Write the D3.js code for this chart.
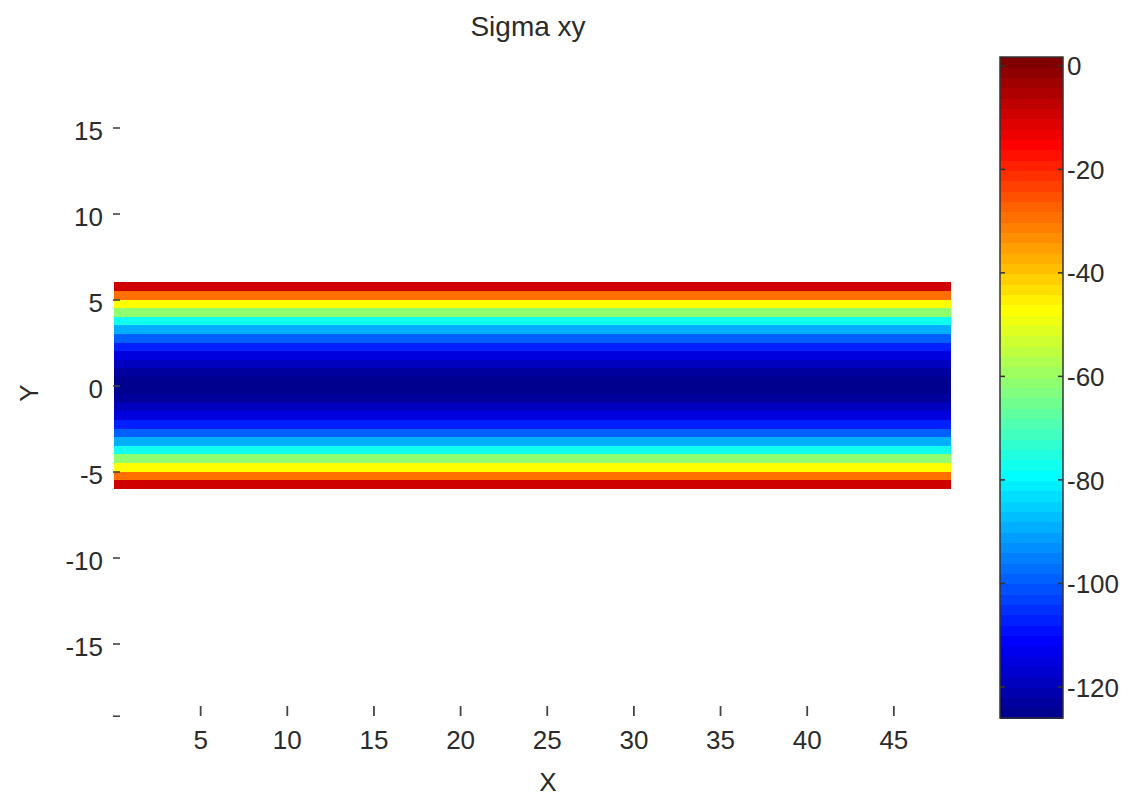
<!DOCTYPE html>
<html>
<head>
<meta charset="utf-8">
<script src="https://cdn.jsdelivr.net/npm/d3@7"></script>
<style>
  html, body { margin: 0; padding: 0; background: #ffffff; }
  svg { display: block; }
  text { font-family: "Liberation Sans", Arial, Helvetica, sans-serif; fill: #2b2b2b; }
</style>
</head>
<body>
<svg id="chart" width="1132" height="799"></svg>
<script>
// ---------------- data ----------------
const title = "Sigma xy";
const xLabel = "X";
const yLabel = "Y";
const xTicks = [5, 10, 15, 20, 25, 30, 35, 40, 45];
const yTicks = [15, 10, 5, 0, -5, -10, -15];
const yTickLabels = ["15", "10", "5", "0", "-5", "-10", "-15"];
const yExtraTick = [-19.2];            // unlabeled tick at the bottom of the axis
const cTicks = [0, -20, -40, -60, -80, -100, -120];
const cTickLabels = ["0", "-20", "-40", "-60", "-80", "-100", "-120"];
const xExtent = [0, 48.3];              // plate length
// rows of the field (centre of each 0.5-high row, top to bottom)
const rowY = [5.75, 5.25, 4.75, 4.25, 3.75, 3.25, 2.75, 2.25, 1.75, 1.25, 0.75, 0.25,
              -0.25, -0.75, -1.25, -1.75, -2.25, -2.75, -3.25, -3.75, -4.25, -4.75, -5.25, -5.75];
// sigma xy read in each row (constant along X)
const rowSigma = [-10, -29, -47, -62, -77, -89, -99, -108, -115, -120, -123, -125,
                  -125, -123, -120, -115, -108, -99, -89, -77, -62, -47, -29, -10];
const rowHeight = 0.5;
const cDomain = [-126, 1.7];

// ---------------- jet(64) colormap ----------------
function jet64() {
  const m = 64, n = 16, u = [];
  for (let i = 1; i <= n; i++) u.push(i / n);
  for (let i = 1; i <= n - 1; i++) u.push(1);
  for (let i = n; i >= 1; i--) u.push(i / n);
  const r = new Array(m).fill(0), g = new Array(m).fill(0), b = new Array(m).fill(0);
  const g0 = Math.ceil(n / 2);
  u.forEach((val, k) => {
    const gi = g0 + k + 1, ri = gi + n, bi = gi - n;
    if (gi >= 1 && gi <= m) g[gi - 1] = val;
    if (ri >= 1 && ri <= m) r[ri - 1] = val;
    if (bi >= 1 && bi <= m) b[bi - 1] = val;
  });
  return d3.range(m).map(i => d3.rgb(r[i] * 255, g[i] * 255, b[i] * 255).formatHex());
}
const cmap = jet64();
const colorScale = d3.scaleQuantize().domain(cDomain).range(cmap);

// ---------------- layout / scales ----------------
const svg = d3.select("#chart");
const x = d3.scaleLinear().domain([0, 48]).range([113.5, 113.5 + 48 * 17.33]);
const y = d3.scaleLinear().domain([-19.2, 19.2]).range([385.5 + 19.2 * 17.2, 385.5 - 19.2 * 17.2]);

// heatmap rows
svg.append("g").attr("class", "field")
  .selectAll("rect").data(rowY.map((yc, i) => ({ yc, v: rowSigma[i] })))
  .join("rect")
  .attr("x", x(xExtent[0]))
  .attr("width", x(xExtent[1]) - x(xExtent[0]))
  .attr("y", d => y(d.yc + rowHeight / 2))
  .attr("height", d => y(d.yc - rowHeight / 2) - y(d.yc + rowHeight / 2) + 0.3)
  .attr("fill", d => colorScale(d.v))
  .attr("shape-rendering", "crispEdges");

// y axis (ticks only, no spine)
const yAxis = d3.axisLeft(y)
  .tickValues(yTicks.concat(yExtraTick))
  .tickFormat(d => { const i = yTicks.indexOf(d); return i >= 0 ? yTickLabels[i] : ""; })
  .tickSize(7).tickPadding(10);
const gy = svg.append("g").attr("transform", "translate(120,0)").call(yAxis);
gy.select(".domain").remove();
gy.selectAll(".tick line").attr("stroke", "#444").attr("stroke-width", 1.6);
gy.selectAll(".tick text").attr("font-size", 26).attr("dy", "0.45em").style("fill", "#2b2b2b")
  .style("font-family", "'Liberation Sans', Arial, sans-serif");

// x axis (ticks only, no spine)
const xAxis = d3.axisBottom(x).tickValues(xTicks).tickSize(10).tickPadding(15);
const gx = svg.append("g").attr("transform", "translate(0,706)").call(xAxis);
gx.select(".domain").remove();
gx.selectAll(".tick line").attr("stroke", "#444").attr("stroke-width", 1.8);
gx.selectAll(".tick text").attr("font-size", 26).style("fill", "#2b2b2b")
  .style("font-family", "'Liberation Sans', Arial, sans-serif");

// title and axis labels
svg.append("text").attr("x", 528).attr("y", 36).attr("text-anchor", "middle")
  .attr("font-size", 28).text(title);
svg.append("text").attr("x", 548).attr("y", 791).attr("text-anchor", "middle")
  .attr("font-size", 26).text(xLabel);
svg.append("text").attr("transform", "translate(38,393) rotate(-90)").attr("text-anchor", "middle")
  .attr("font-size", 26).text(yLabel);

// ---------------- colorbar ----------------
const cb = { x0: 1000, x1: 1063, top: 57, bottom: 718 };
const cy = d3.scaleLinear().domain(cDomain).range([cb.bottom, cb.top]);
const bandH = (cDomain[1] - cDomain[0]) / cmap.length;
const gcb = svg.append("g").attr("class", "colorbar");
gcb.selectAll("rect.band").data(cmap).join("rect").attr("class", "band")
  .attr("x", cb.x0).attr("width", cb.x1 - cb.x0)
  .attr("y", (c, i) => cy(cDomain[0] + (i + 1) * bandH))
  .attr("height", (c, i) => cy(cDomain[0] + i * bandH) - cy(cDomain[0] + (i + 1) * bandH) + 0.5)
  .attr("fill", c => c)
  .attr("shape-rendering", "crispEdges");
gcb.append("rect").attr("x", cb.x0).attr("y", cb.top).attr("width", cb.x1 - cb.x0)
  .attr("height", cb.bottom - cb.top).attr("fill", "none").attr("stroke", "#333").attr("stroke-width", 1.5);
// inner tick marks on both edges
gcb.selectAll("line.tl").data(cTicks).join("line").attr("class", "tl")
  .attr("x1", cb.x0).attr("x2", cb.x0 + 5).attr("y1", d => cy(d)).attr("y2", d => cy(d))
  .attr("stroke", "#333").attr("stroke-width", 1.5);
gcb.selectAll("line.tr").data(cTicks).join("line").attr("class", "tr")
  .attr("x1", cb.x1 - 5).attr("x2", cb.x1).attr("y1", d => cy(d)).attr("y2", d => cy(d))
  .attr("stroke", "#333").attr("stroke-width", 1.5);
const cAxis = d3.axisRight(cy).tickValues(cTicks)
  .tickFormat((d, i) => cTickLabels[i]).tickSize(0).tickPadding(4);
const gc = svg.append("g").attr("transform", `translate(${cb.x1},0)`).call(cAxis);
gc.select(".domain").remove();
gc.selectAll(".tick text").attr("font-size", 26).attr("dy", "0.35em").style("fill", "#2b2b2b")
  .style("font-family", "'Liberation Sans', Arial, sans-serif");
</script>
</body>
</html>
